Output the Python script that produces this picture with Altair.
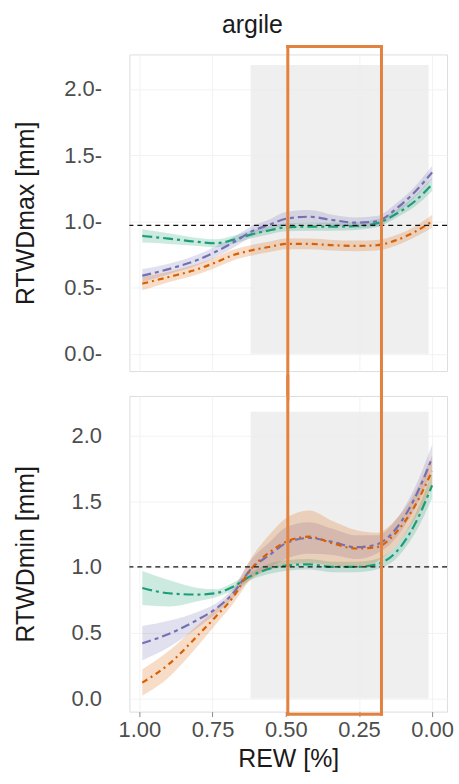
import altair as alt
import pandas as pd

# ---------------- data ----------------
rew = [0.99, 0.90, 0.80, 0.74, 0.68, 0.62, 0.55, 0.50, 0.42, 0.34, 0.26, 0.19, 0.12, 0.06, 0.00]
series = ["g", "p", "o"]
colors = ["#1b9e77", "#7570b3", "#d95f02"]
dashes = [[10, 4, 3, 4], [9, 4, 4, 4], [6, 4, 2, 4]]

max_green = [0.89, 0.87, 0.845, 0.835, 0.86, 0.90, 0.935, 0.955, 0.96, 0.96, 0.965, 0.985, 1.06, 1.15, 1.28]
max_green_se = [0.05, 0.04, 0.03, 0.03, 0.03, 0.03, 0.03, 0.03, 0.03, 0.03, 0.03, 0.03, 0.03, 0.04, 0.05]
max_purple = [0.59, 0.64, 0.71, 0.77, 0.84, 0.92, 0.98, 1.02, 1.035, 1.01, 0.99, 1.0, 1.1, 1.22, 1.37]
max_purple_se = [0.05, 0.04, 0.04, 0.04, 0.04, 0.04, 0.04, 0.05, 0.05, 0.04, 0.04, 0.04, 0.04, 0.04, 0.05]
max_orange = [0.53, 0.58, 0.64, 0.69, 0.745, 0.78, 0.81, 0.83, 0.83, 0.82, 0.815, 0.82, 0.86, 0.92, 1.0]
max_orange_se = [0.05, 0.04, 0.04, 0.04, 0.04, 0.04, 0.04, 0.04, 0.04, 0.04, 0.04, 0.04, 0.04, 0.04, 0.05]

min_green = [0.84, 0.80, 0.79, 0.80, 0.85, 0.93, 0.99, 1.01, 1.02, 1.0, 1.0, 1.02, 1.12, 1.32, 1.62]
min_green_se = [0.13, 0.10, 0.05, 0.03, 0.03, 0.03, 0.04, 0.04, 0.04, 0.04, 0.04, 0.04, 0.05, 0.07, 0.10]
min_purple = [0.42, 0.49, 0.60, 0.68, 0.80, 0.98, 1.10, 1.18, 1.22, 1.19, 1.15, 1.17, 1.30, 1.52, 1.83]
min_purple_se = [0.13, 0.10, 0.06, 0.04, 0.04, 0.07, 0.10, 0.12, 0.12, 0.10, 0.09, 0.07, 0.07, 0.08, 0.10]
min_orange = [0.12, 0.26, 0.48, 0.62, 0.77, 0.98, 1.12, 1.19, 1.23, 1.18, 1.14, 1.15, 1.27, 1.46, 1.73]
min_orange_se = [0.10, 0.10, 0.08, 0.06, 0.05, 0.08, 0.14, 0.18, 0.20, 0.17, 0.14, 0.11, 0.10, 0.10, 0.12]

ref_max = 0.97
ref_min = 1.0
shade_x = [0.62, 0.012]
shade_y = [0.0, 2.18]
box_x = [0.493, 0.173]


def long_df(vals, ses):
    rows = []
    for s, v, e in zip(series, vals, ses):
        for r, a, b in zip(rew, v, e):
            rows.append({"rew": r, "series": s, "val": a, "lo": a - b, "hi": a + b})
    return pd.DataFrame(rows)


df_max = long_df([max_green, max_purple, max_orange], [max_green_se, max_purple_se, max_orange_se])
df_min = long_df([min_green, min_purple, min_orange], [min_green_se, min_purple_se, min_orange_se])

FONT = "Liberation Sans"
W, H = 319, 318

xscale = alt.Scale(domain=[-0.051, 1.034], reverse=True, nice=False, zero=False)
color_scale = alt.Scale(domain=series, range=colors)
dash_scale = alt.Scale(domain=series, range=dashes)
box_color = "#e3813f"


def panel(df, ref, ydom, ytitle, top, box_rows):
    yscale = alt.Scale(domain=ydom, nice=False, zero=False)
    yaxis = alt.Axis(
        title=ytitle, values=[0, 0.5, 1.0, 1.5, 2.0], format=".1f",
        labelExpr="datum.label + '-'" if top else "datum.label",
        ticks=False, domain=False, labelPadding=28, labelFontSize=22,
        labelColor="#4d4d4d", titleFontSize=25, titleColor="#1a1a1a",
        titleFontWeight="normal", titlePadding=19, minExtent=72, maxExtent=72,
        grid=True, gridColor="#f2f2f2", labelFont=FONT, titleFont=FONT,
    )
    if top:
        xaxis = alt.Axis(title=None, labels=False, ticks=False, domain=False,
                         values=[0, 0.25, 0.5, 0.75, 1.0], grid=True, gridColor="#f2f2f2")
    else:
        xaxis = alt.Axis(title="REW [%]", values=[0, 0.25, 0.5, 0.75, 1.0], format=".2f",
                         ticks=True, tickSize=5, tickColor="#8a8a8a", domain=False,
                         labelFontSize=22, labelColor="#4d4d4d", labelPadding=3,
                         titleFontSize=25, titleColor="#1a1a1a", titleFontWeight="normal",
                         titlePadding=6, grid=True, gridColor="#f2f2f2",
                         labelFont=FONT, titleFont=FONT)

    shade = alt.Chart(pd.DataFrame({"x": [shade_x[0]], "x2": [shade_x[1]],
                                    "y": [shade_y[0]], "y2": [shade_y[1]]})).mark_rect(
        color="#ebebeb", opacity=0.8).encode(
        x=alt.X("x:Q", scale=xscale, axis=xaxis), x2="x2:Q",
        y=alt.Y("y:Q", scale=yscale, axis=yaxis), y2="y2:Q")

    base = alt.Chart(df)
    band = base.mark_area(opacity=0.22, interpolate="monotone").encode(
        x=alt.X("rew:Q", scale=xscale),
        y=alt.Y("lo:Q", scale=yscale),
        y2="hi:Q",
        color=alt.Color("series:N", scale=color_scale, legend=None),
        detail="series:N")
    line = base.mark_line(strokeWidth=2.2, interpolate="monotone").encode(
        x=alt.X("rew:Q", scale=xscale),
        y=alt.Y("val:Q", scale=yscale),
        color=alt.Color("series:N", scale=color_scale, legend=None),
        strokeDash=alt.StrokeDash("series:N", scale=dash_scale, legend=None))

    hline = alt.Chart(pd.DataFrame({"y": [ref]})).mark_rule(
        color="#111111", strokeDash=[5, 4], strokeWidth=1.3).encode(
        y=alt.Y("y:Q", scale=yscale))

    box = alt.Chart(pd.DataFrame(box_rows)).mark_rule(
        color=box_color, strokeWidth=3, strokeCap="square", clip=False).encode(
        x=alt.X("x:Q", scale=xscale), x2="x2:Q",
        y=alt.Y("y:Q", scale=yscale), y2="y2:Q")

    ch = alt.layer(shade, band, line, hline, box).properties(width=W, height=H)
    return ch


top_box = [
    {"x": box_x[0], "x2": box_x[1], "y": 2.32, "y2": 2.32},
    {"x": box_x[0], "x2": box_x[0], "y": 2.32, "y2": -0.34},
    {"x": box_x[1], "x2": box_x[1], "y": 2.32, "y2": -0.34},
]
bot_box = [
    {"x": box_x[0], "x2": box_x[0], "y": 2.45, "y2": -0.12},
    {"x": box_x[1], "x2": box_x[1], "y": 2.45, "y2": -0.12},
    {"x": box_x[0], "x2": box_x[1], "y": -0.12, "y2": -0.12},
]

top_chart = panel(df_max, ref_max, [-0.13, 2.26], "RTWDmax [mm]", True, top_box).properties(
    title=alt.TitleParams("argile", fontSize=25, font=FONT, fontWeight="normal",
                          color="#1a1a1a", anchor="middle", dx=-36, offset=6))
bot_chart = panel(df_min, ref_min, [-0.1, 2.3], "RTWDmin [mm]", False, bot_box).properties(height=317)

chart = alt.vconcat(top_chart, bot_chart, spacing=25, bounds="flush").properties(
    padding={"left": 13, "top": 11, "right": 5, "bottom": 5}
).configure_view(stroke="#9a9a9a", strokeWidth=1.2).configure(background="white")

chart.save("out.html", embed_options={"renderer": "svg", "actions": False})
